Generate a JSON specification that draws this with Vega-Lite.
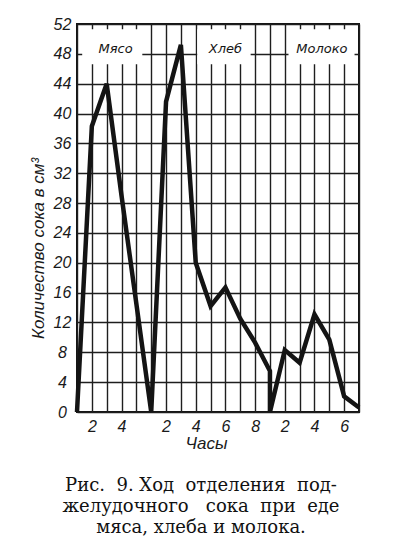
{
  "$schema": "https://vega.github.io/schema/vega-lite/v6.json",
  "width": 282,
  "height": 388,
  "autosize": {"type": "none"},
  "padding": {"left": 77, "top": 24, "right": 41, "bottom": 130},
  "background": "white",
  "title": {
    "text": [
      "Рис.\u00a0\u00a09.\u00a0Ход\u00a0\u00a0отделения\u00a0\u00a0под-",
      "желудочного\u00a0\u00a0\u00a0сока\u00a0\u00a0при\u00a0\u00a0еде",
      "мяса,\u00a0хлеба\u00a0и\u00a0молока."
    ],
    "orient": "bottom",
    "anchor": "middle",
    "dx": -17,
    "offset": 26,
    "font": "DejaVu Serif",
    "fontSize": 18,
    "fontWeight": "normal",
    "lineHeight": 21,
    "color": "#111111"
  },
  "datasets": {
    "juice": [
      {"i": 1, "food": "Мясо", "hour": 1, "t": 0, "ml": 0},
      {"i": 2, "food": "Мясо", "hour": 2, "t": 1, "ml": 38.3},
      {"i": 3, "food": "Мясо", "hour": 3, "t": 2, "ml": 44},
      {"i": 4, "food": "Мясо", "hour": 4, "t": 3, "ml": 29},
      {"i": 5, "food": "Мясо", "hour": 6, "t": 5, "ml": 0},
      {"i": 6, "food": "Хлеб", "hour": 1, "t": 5, "ml": 0},
      {"i": 7, "food": "Хлеб", "hour": 2, "t": 6, "ml": 41.6},
      {"i": 8, "food": "Хлеб", "hour": 3, "t": 7, "ml": 49.2},
      {"i": 9, "food": "Хлеб", "hour": 4, "t": 8, "ml": 20},
      {"i": 10, "food": "Хлеб", "hour": 5, "t": 9, "ml": 14.2},
      {"i": 11, "food": "Хлеб", "hour": 6, "t": 10, "ml": 16.7},
      {"i": 12, "food": "Хлеб", "hour": 7, "t": 11, "ml": 12.5},
      {"i": 13, "food": "Хлеб", "hour": 8, "t": 12, "ml": 9.3},
      {"i": 14, "food": "Хлеб", "hour": 9, "t": 13, "ml": 5.5},
      {"i": 15, "food": "Молоко", "hour": 1, "t": 13, "ml": 0},
      {"i": 16, "food": "Молоко", "hour": 2, "t": 14, "ml": 8.3},
      {"i": 17, "food": "Молоко", "hour": 3, "t": 15, "ml": 6.6},
      {"i": 18, "food": "Молоко", "hour": 4, "t": 16, "ml": 13.1},
      {"i": 19, "food": "Молоко", "hour": 5, "t": 17, "ml": 9.7},
      {"i": 20, "food": "Молоко", "hour": 6, "t": 18, "ml": 2.1},
      {"i": 21, "food": "Молоко", "hour": 7, "t": 19, "ml": 0.6}
    ],
    "sections": [
      {"food": "Мясо", "labelAt": 2.6, "boxFrom": 0.35, "boxTo": 4.4},
      {"food": "Хлеб", "labelAt": 10, "boxFrom": 8.1, "boxTo": 11.7},
      {"food": "Молоко", "labelAt": 16.5, "boxFrom": 14.25, "boxTo": 18.7}
    ]
  },
  "layer": [
    {
      "data": {"name": "juice"},
      "mark": {"type": "line", "color": "#141414", "strokeWidth": 4.5, "strokeJoin": "miter", "strokeMiterLimit": 4},
      "encoding": {
        "x": {
          "field": "t",
          "type": "quantitative",
          "scale": {"domain": [0, 19], "nice": false, "zero": false},
          "axis": {
            "title": "Часы",
            "values": [0, 1, 2, 3, 4, 5, 6, 7, 8, 9, 10, 11, 12, 13, 14, 15, 16, 17, 18, 19],
            "tickCount": 25,
            "labelExpr": "datum.value==1?'2':datum.value==3?'4':datum.value==6?'2':datum.value==8?'4':datum.value==10?'6':datum.value==12?'8':datum.value==14?'2':datum.value==16?'4':datum.value==18?'6':''",
            "labelPadding": 6,
            "labelDx": 2,
            "titleX": 129,
            "titleY": 23,
            "titleBaseline": "top",
            "titleAlign": "center"
          }
        },
        "y": {
          "field": "ml",
          "type": "quantitative",
          "scale": {"domain": [0, 52], "nice": false},
          "axis": {
            "title": "Количество сока в см³",
            "values": [0, 4, 8, 12, 16, 20, 24, 28, 32, 36, 40, 44, 48, 52],
            "tickCount": 20,
            "labelAlign": "center",
            "labelBaseline": "middle",
            "labelPadding": 15,
            "labelDy": 1,
            "titleX": -39,
            "titleY": 224,
            "titleAngle": 270,
            "titleBaseline": "middle",
            "titleAlign": "center"
          }
        },
        "order": {"field": "i", "type": "quantitative"}
      }
    },
    {
      "data": {"name": "sections"},
      "mark": {"type": "rect", "fill": "white", "stroke": null},
      "encoding": {
        "x": {"field": "boxFrom", "type": "quantitative"},
        "x2": {"field": "boxTo"},
        "y": {"datum": 46.6, "type": "quantitative"},
        "y2": {"datum": 51.3}
      }
    },
    {
      "data": {"name": "sections"},
      "mark": {"type": "text", "font": "DejaVu Sans", "fontStyle": "italic", "fontSize": 13, "color": "#141414", "baseline": "middle", "align": "center"},
      "encoding": {
        "x": {"field": "labelAt", "type": "quantitative"},
        "y": {"datum": 48.6, "type": "quantitative"},
        "text": {"field": "food"}
      }
    }
  ],
  "config": {
    "view": {"stroke": "#141414", "strokeWidth": 2},
    "axis": {
      "grid": true,
      "gridColor": "#1e1e1e",
      "gridWidth": 1.4,
      "gridOpacity": 1,
      "domain": false,
      "ticks": false,
      "tickSize": 0,
      "labelFont": "Liberation Sans",
      "labelFontStyle": "italic",
      "labelFontSize": 16,
      "labelColor": "#1a1a1a",
      "labelFlush": false,
      "labelOverlap": false,
      "titleFont": "Liberation Sans",
      "titleFontStyle": "italic",
      "titleFontWeight": "normal",
      "titleFontSize": 17,
      "titleColor": "#1a1a1a"
    }
  }
}
